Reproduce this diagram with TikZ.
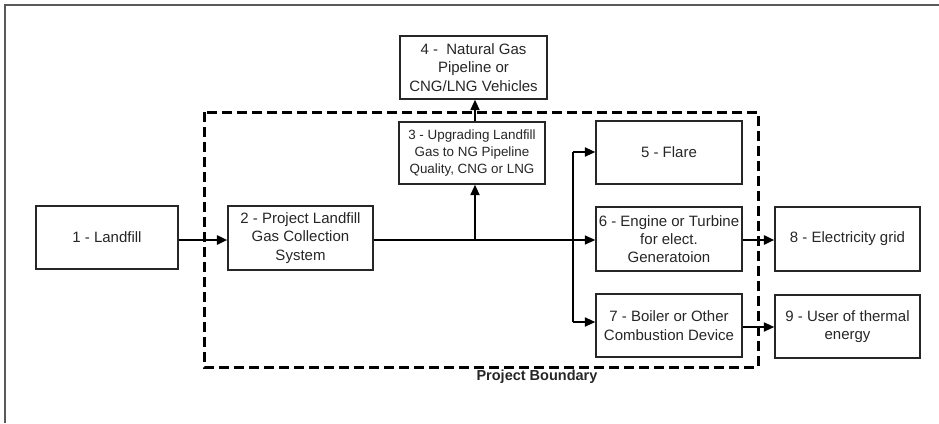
\documentclass[tikz,border=0pt]{standalone}
\usepackage{fontspec}
\setmainfont{Liberation Sans}
\usetikzlibrary{arrows.meta}
\begin{document}
\begin{tikzpicture}[x=1pt,y=-1pt,
  box/.style={draw=black!85, line width=1.3pt, inner sep=0pt, align=center,
    font=\fontsize{15}{18.3}\selectfont, text=black!85},
  smalltext/.style={font=\fontsize{13.4}{17}\selectfont},
  tip/.style={-{Triangle[length=10.5pt,width=9pt]}},
  thin/.style={tip, line width=1.4pt},
  mid/.style={tip, line width=2pt},
  thick/.style={tip, line width=2.8pt},
  boundary/.style={line width=3pt, dash pattern=on 10pt off 5pt}]
\useasboundingbox (0,0) rectangle (939,423);
% outer frame (partial)
\draw[black!65, line width=1.2pt] (5,423) -- (5,5) -- (939,5);
% project boundary
\draw[boundary] (204,112) rectangle (758,367);
\node[font=\bfseries\fontsize{14.5}{17}\selectfont, text=black!85] (pb) at (537,377) {Project Boundary};
% boxes
\node[box, minimum width=142pt, minimum height=63pt] (b1) at (107,237.5) {1 - Landfill};
\node[box, minimum width=145pt, minimum height=64pt] (b2) at (300.5,238) {2 - Project Landfill\\Gas Collection\\System};
\node[box, smalltext, minimum width=146pt, minimum height=62pt] (b3) at (472,153) {3 - Upgrading Landfill\\Gas to NG Pipeline\\Quality, CNG or LNG};
\node[box, minimum width=147pt, minimum height=63pt] (b4) at (473.5,67.5) {4 - \ Natural Gas\\Pipeline or\\CNG/LNG Vehicles};
\node[box, minimum width=146pt, minimum height=63pt] (b5) at (669,152.5) {5 - Flare};
\node[box, minimum width=146pt, minimum height=64pt] (b6) at (669,239) {6 - Engine or Turbine\\for elect.\\Generatoion};
\node[box, minimum width=146pt, minimum height=63pt] (b7) at (669,325.5) {7 - Boiler or Other\\Combustion Device};
\node[box, minimum width=145pt, minimum height=64pt] (b8) at (847.5,239) {8 - Electricity grid};
\node[box, minimum width=145pt, minimum height=63pt] (b9) at (847.5,326.5) {9 - User of thermal\\energy};
% helper coordinates
\coordinate (my) at (0,240);
\coordinate (j) at (475,240);
\coordinate (bt) at (573,152);
\coordinate (bb) at (573,322);
\coordinate (ly) at (0,327);
% connectors
\draw[thick] (b1.east |- my) -- (b2.west |- my);
\draw[thin] (b2.east |- my) -- (b6.west |- my);
\draw[mid] (j) -- (b3.south -| j);
\draw[mid] (b3.north -| j) -- (b4.south -| j);
\draw[line width=1.4pt] (bt) -- (bb);
\draw[mid] (bt) -- (b5.west |- bt);
\draw[mid] (bb) -- (b7.west |- bb);
\draw[thick] (b6.east |- my) -- (b8.west |- my);
\draw[mid] (b7.east |- ly) -- (b9.west |- ly);
\end{tikzpicture}
\end{document}
